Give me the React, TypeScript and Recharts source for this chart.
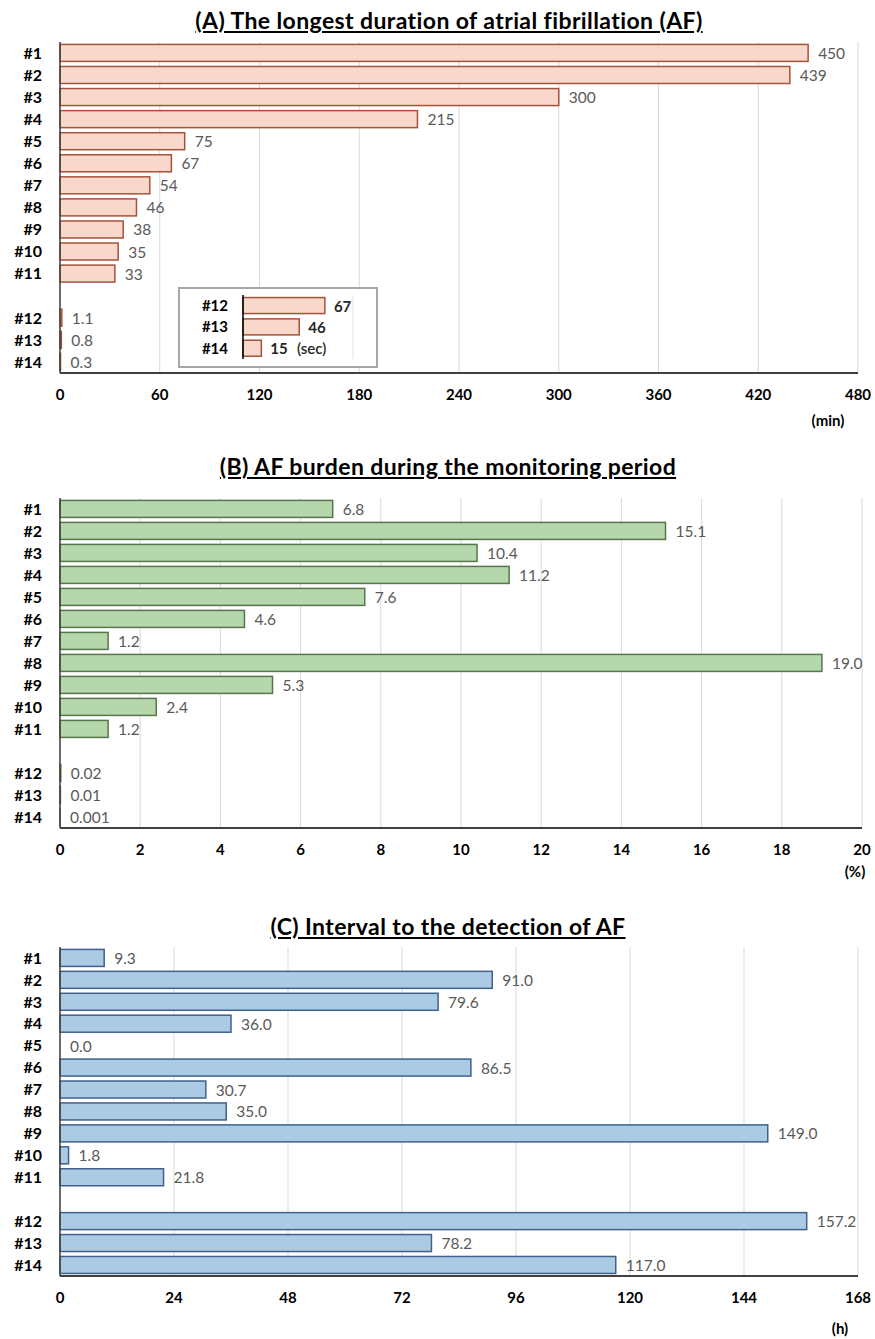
import React from 'react';
import { BarChart, Bar, XAxis, YAxis, CartesianGrid } from 'recharts';

const patients = ['#1', '#2', '#3', '#4', '#5', '#6', '#7', '#8', '#9', '#10', '#11', '', '#12', '#13', '#14'];

// (A) longest AF episode, minutes
const longestMin = [450, 439, 300, 215, 75, 67, 54, 46, 38, 35, 33, null, 1.1, 0.8, 0.3];
// (B) AF burden, %
const burdenPct = [6.8, 15.1, 10.4, 11.2, 7.6, 4.6, 1.2, 19.0, 5.3, 2.4, 1.2, null, 0.02, 0.01, 0.001];
// (C) time to first AF, hours
const intervalH = [9.3, 91.0, 79.6, 36.0, 0.0, 86.5, 30.7, 35.0, 149.0, 1.8, 21.8, null, 157.2, 78.2, 117.0];

// inset of panel A: short episodes in seconds
const insetPatients = ['#12', '#13', '#14'];
const insetSec = [67, 46, 15];

const ticksA = [0, 60, 120, 180, 240, 300, 360, 420, 480];
const ticksB = [0, 2, 4, 6, 8, 10, 12, 14, 16, 18, 20];
const ticksC = [0, 24, 48, 72, 96, 120, 144, 168];
const ticksInset = [0, 30, 60, 90];

const FONT = 'Lato, "Open Sans", sans-serif';

const toRows = (values: (number | null)[], names: string[]) =>
  names.map((name, i) => ({ name, v: values[i] }));

// bar + value label drawn together so zero-length bars still get their label
const makeShape =
  (
    fill: string,
    stroke: string,
    fmt: (v: number) => string,
    labelColor: string,
    labelWeight: number,
    labelSize: number,
    gap: number
  ) =>
  (props: any) => {
    const { x, y, width, height, payload } = props;
    const v = payload ? payload.v : null;
    if (v === null || v === undefined) return <g />;
    const bx = Number(x);
    const by = Number(y);
    const bw = Number(width);
    const bh = Number(height);
    return (
      <g>
        {bw > 0 && <rect x={bx} y={by} width={bw} height={bh} fill={fill} stroke={stroke} strokeWidth={1.5} />}
        <text
          x={bx + Math.max(bw, 0) + gap}
          y={by + bh / 2}
          dominantBaseline="central"
          fill={labelColor}
          fontSize={labelSize}
          fontWeight={labelWeight}
          fontFamily={FONT}
        >
          {fmt(v)}
        </text>
      </g>
    );
  };

interface PanelProps {
  top: number;
  height: number;
  values: (number | null)[];
  ticks: number[];
  fill: string;
  stroke: string;
  fmt: (v: number) => string;
  margin: { top: number; right: number; bottom: number; left: number };
}

function Panel({ top, height, values, ticks, fill, stroke, fmt, margin }: PanelProps) {
  const data = toRows(values, patients);
  return (
    <div style={{ position: 'absolute', left: 0, top }}>
      <BarChart width={875} height={height} data={data} layout="vertical" margin={margin} barCategoryGap="11%">
        <CartesianGrid horizontal={false} stroke="#d9d9d9" />
        <XAxis
          type="number"
          domain={[0, ticks[ticks.length - 1]]}
          ticks={ticks}
          interval={0}
          height={30}
          tickSize={0}
          tickMargin={16}
          axisLine={{ stroke: '#404040', strokeWidth: 2 }}
          tick={{ fill: '#000', fontSize: 15, fontWeight: 700, fontFamily: FONT }}
        />
        <YAxis
          type="category"
          dataKey="name"
          width={60}
          interval={0}
          tickSize={0}
          tickMargin={18}
          axisLine={{ stroke: '#404040', strokeWidth: 1.5 }}
          tick={{ fill: '#000', fontSize: 16, fontWeight: 700, fontFamily: FONT }}
        />
        <Bar
          dataKey="v"
          fill={fill}
          isAnimationActive={false}
          shape={makeShape(fill, stroke, fmt, '#595959', 400, 15.5, 10)}
        />
      </BarChart>
    </div>
  );
}

function Inset() {
  const data = toRows(insetSec, insetPatients);
  return (
    <div
      style={{
        position: 'absolute',
        left: 178,
        top: 287,
        width: 200,
        height: 81,
        boxSizing: 'border-box',
        border: '2px solid #a6a6a6',
        background: '#fff',
      }}
    >
      <BarChart
        width={196}
        height={77}
        data={data}
        layout="vertical"
        margin={{ top: 6, right: 23, bottom: 7, left: 0 }}
        barCategoryGap="12%"
      >
        <CartesianGrid horizontal={false} stroke="#e3e3e3" />
        <XAxis
          type="number"
          domain={[0, 90]}
          ticks={ticksInset}
          height={0}
          tick={false}
          tickLine={false}
          axisLine={{ stroke: '#000', strokeWidth: 1.5 }}
        />
        <YAxis
          type="category"
          dataKey="name"
          width={63}
          interval={0}
          tickSize={0}
          tickMargin={15}
          axisLine={{ stroke: '#000', strokeWidth: 1.5 }}
          tick={{ fill: '#000', fontSize: 15, fontWeight: 700, fontFamily: FONT }}
        />
        <Bar
          dataKey="v"
          fill="#f8d8cb"
          isAnimationActive={false}
          shape={makeShape('#f8d8cb', '#a5533a', (v) => String(v), '#262626', 700, 15, 9)}
        />
      </BarChart>
      <span
        style={{
          position: 'absolute',
          left: 117,
          top: 50,
          fontSize: 15,
          fontWeight: 600,
          fontFamily: FONT,
          color: '#262626',
        }}
      >
        (sec)
      </span>
    </div>
  );
}

const titleStyle = (top: number, cx: number): React.CSSProperties => ({
  position: 'absolute',
  top,
  left: cx - 320,
  width: 640,
  textAlign: 'center',
  fontFamily: FONT,
  fontWeight: 700,
  fontSize: 23,
  letterSpacing: 0.4,
  textDecoration: 'underline',
  color: '#000',
  whiteSpace: 'nowrap',
});

const unitStyle = (top: number, cx: number): React.CSSProperties => ({
  position: 'absolute',
  top,
  left: cx - 30,
  width: 60,
  textAlign: 'center',
  fontFamily: FONT,
  fontWeight: 700,
  fontSize: 15,
  color: '#000',
});

export default function App() {
  return (
    <div style={{ position: 'absolute', left: 0, top: 0, width: 875, height: 1339, background: '#fff' }}>
      <Panel
        top={0}
        height={440}
        values={longestMin}
        ticks={ticksA}
        fill="#f8d8cb"
        stroke="#a5533a"
        fmt={(v) => String(v)}
        margin={{ top: 42, right: 17, bottom: 37, left: 0 }}
      />
      <Inset />
      <div style={titleStyle(6, 449)}>(A) The longest duration of atrial fibrillation (AF)</div>
      <div style={unitStyle(411, 828)}>(min)</div>

      <Panel
        top={460}
        height={420}
        values={burdenPct}
        ticks={ticksB}
        fill="#b6d7ab"
        stroke="#55774a"
        fmt={(v) => (v >= 1 ? v.toFixed(1) : String(v))}
        margin={{ top: 38, right: 13, bottom: 22, left: 0 }}
      />
      <div style={titleStyle(452, 448)}>(B) AF burden during the monitoring period</div>
      <div style={unitStyle(862, 855)}>(%)</div>

      <Panel
        top={900}
        height={439}
        values={intervalH}
        ticks={ticksC}
        fill="#abcbe4"
        stroke="#41618a"
        fmt={(v) => v.toFixed(1)}
        margin={{ top: 47, right: 17, bottom: 33, left: 0 }}
      />
      <div style={titleStyle(912, 448)}>(C) Interval to the detection of AF</div>
      <div style={unitStyle(1319, 840)}>(h)</div>
    </div>
  );
}
